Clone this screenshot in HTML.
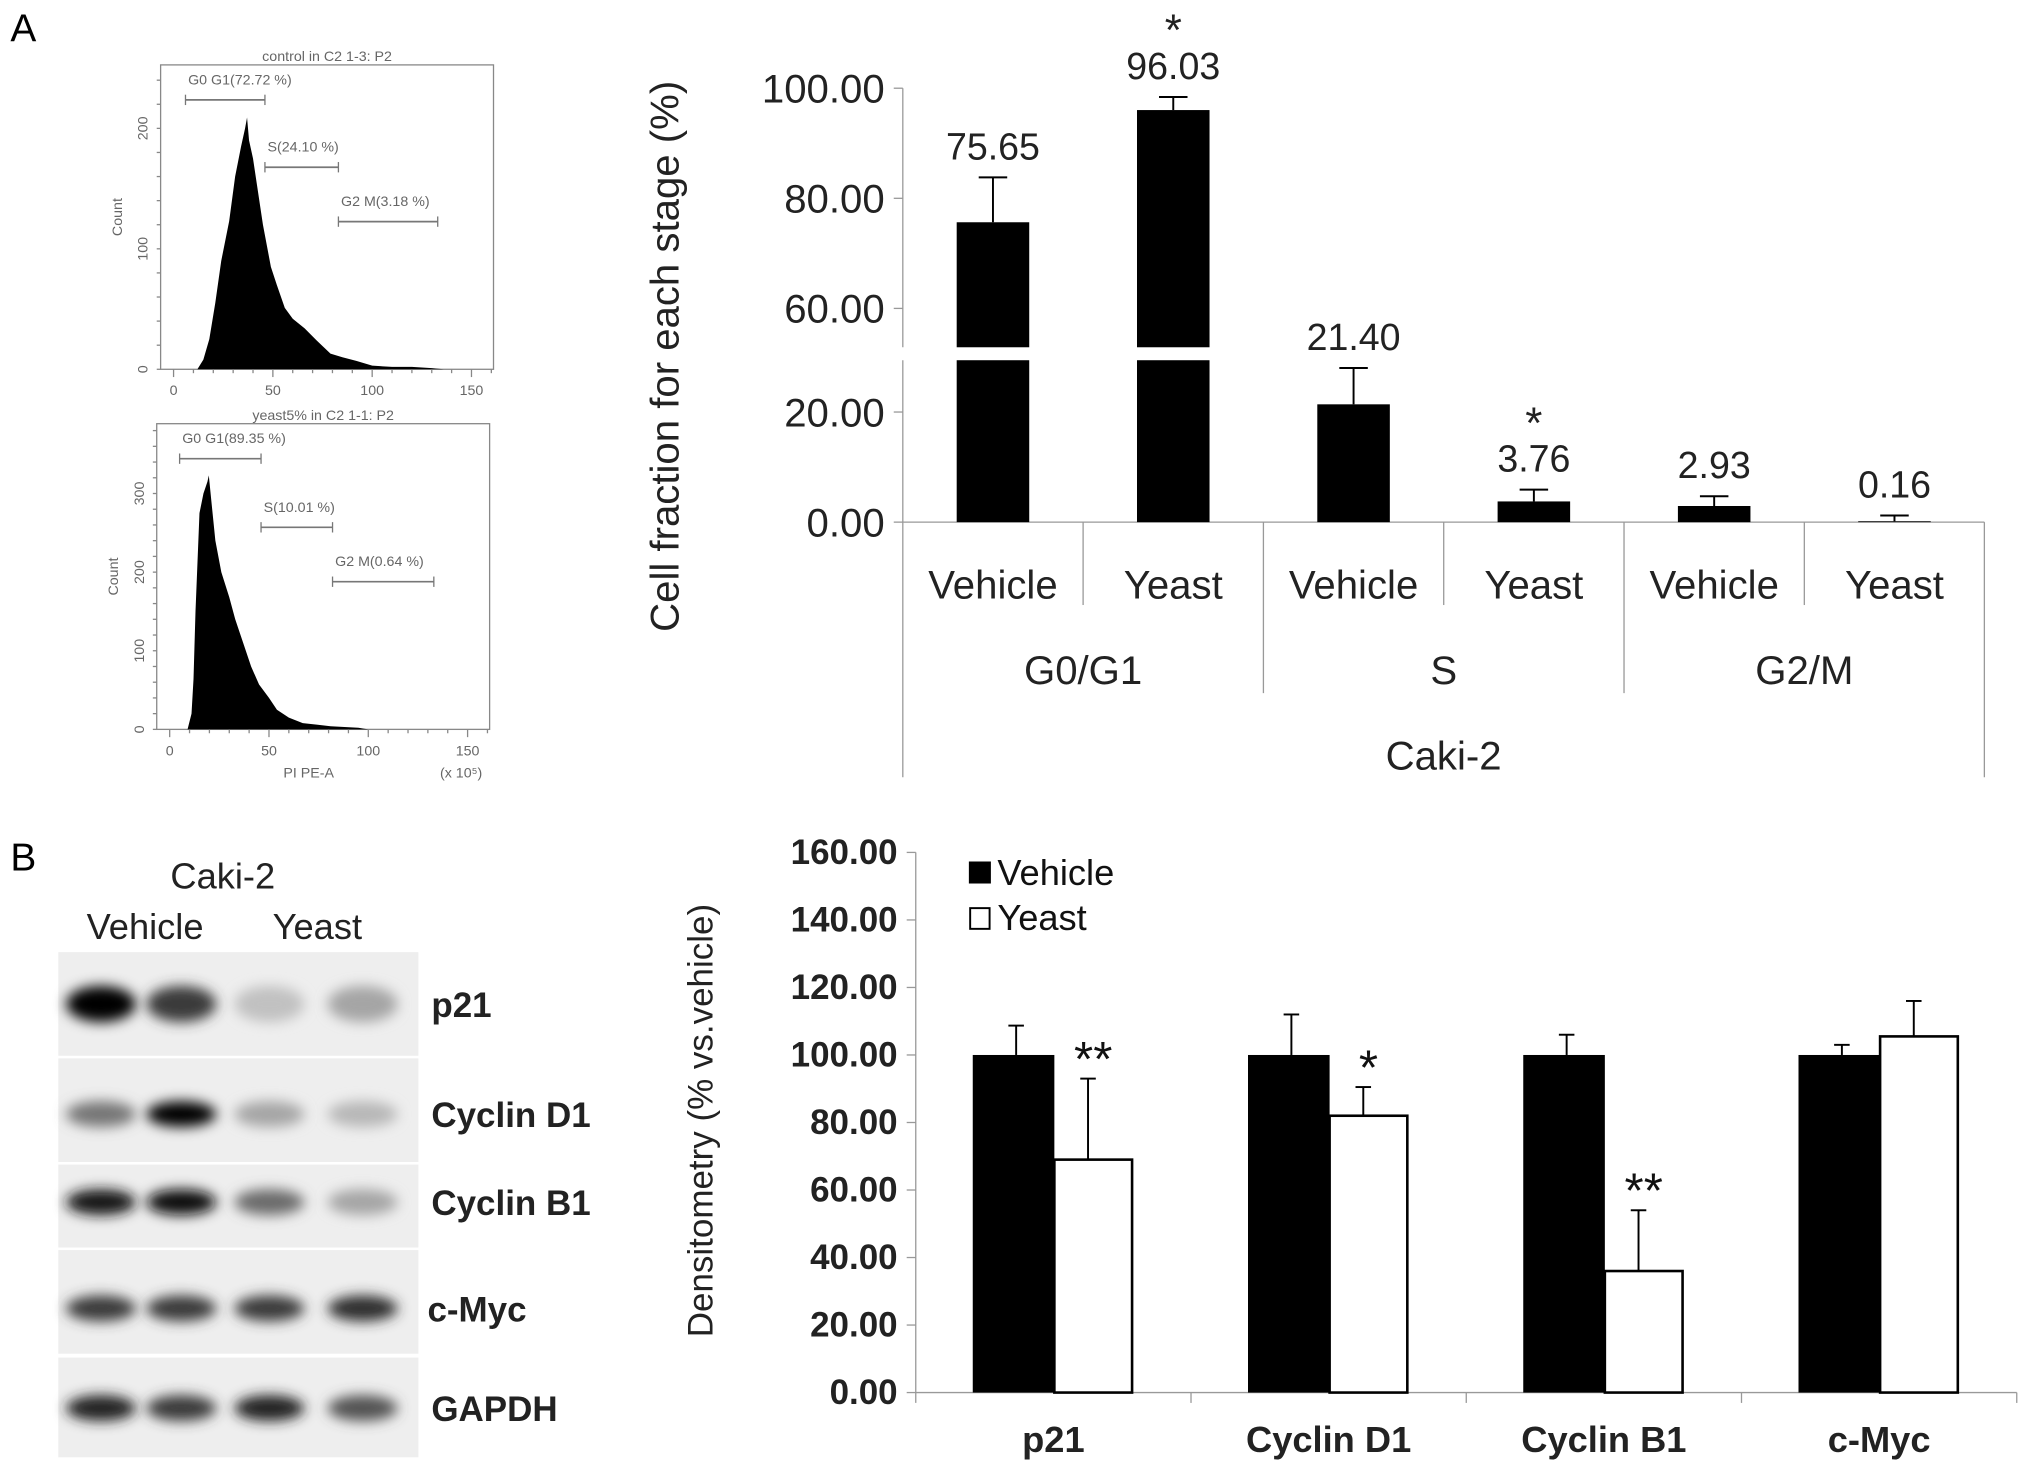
<!DOCTYPE html>
<html><head><meta charset="utf-8"><style>
html,body{margin:0;padding:0;background:#fff;}
svg{display:block;}
.a{font-family:"Liberation Sans Narrow","Liberation Sans",sans-serif;}
.b{font-family:"Liberation Sans",sans-serif;font-weight:bold;}
</style></head><body>
<svg id="fig" width="2031" height="1473" viewBox="0 0 1568 1137" xmlns="http://www.w3.org/2000/svg">
<defs><filter id="blur" x="-50%" y="-80%" width="200%" height="260%"><feGaussianBlur stdDeviation="5"/></filter></defs>
<text x="8" y="32" font-size="30" font-family="Liberation Sans">A</text>
<text x="8" y="672" font-size="30" font-family="Liberation Sans">B</text>
<g id="flow"></g>
<g id="chartA"></g>
<g id="blot"></g>
<g id="chartB"></g>
</svg>
<script>
// ---------- Flow histogram data ----------
const flowTopX=[12,15,18,21,24,28,31,34,36,37,38,40,42,45,49,52,56,60,66,72,79,85,92,100,110,120,130,136];
const flowTopY=[0,8,25,55,90,123,160,185,200,209,190,175,153,120,85,70,51,42,34,24,13,10,7,3,2,2,1,0];
const flowBotX=[9,11,12,13,15,17,19,19.7,21,23,26,30,33,37,41,45,50,54,60,67,74,81,88,95,100];
const flowBotY=[0,20,64,150,275,300,315,323,290,240,200,168,140,110,80,57,40,25,15,8,6,4,3,2,0];
// ---------- Chart A data ----------
const catsA=["Vehicle","Yeast","Vehicle","Yeast","Vehicle","Yeast"];
const groupsA=["G0/G1","S","G2/M"];
const valsA=[75.65,96.03,21.40,3.76,2.93,0.16];
const errA=[83.8,98.4,28.0,5.9,4.7,1.2];
const starsA=["","*","","*","",""];
const ticksA=[0,20,60,80,100];
// ---------- Chart B data ----------
const catsB=["p21","Cyclin D1","Cyclin B1","c-Myc"];
const vehB=[100,100,100,100];
const vehErrB=[108.7,112,106,103];
const yeastB=[69,82,36,105.5];
const yeastErrB=[93,90.5,54,116];
const starsB=["**","*","**",""];
const ticksB=[0,20,40,60,80,100,120,140,160];
// ---------- Blot data (band darkness 0-1 per lane) ----------
const blotRows=["p21","Cyclin D1","Cyclin B1","c-Myc","GAPDH"];
const blotInt=[[1,0.75,0.18,0.3],[0.5,1,0.3,0.22],[0.9,0.95,0.55,0.3],[0.75,0.75,0.75,0.8],[0.85,0.75,0.85,0.65]];

const NS="http://www.w3.org/2000/svg";
function mk(tag,attrs,parent,text){const e=document.createElementNS(NS,tag);for(const k in attrs)e.setAttribute(k,attrs[k]);if(text!==undefined)e.textContent=text;parent.appendChild(e);return e;}

// ---------- Flow plots ----------
const flow=document.getElementById('flow');
function flowPlot(box,xs,ys,ymaxTick,pxPer100,title,gates,name,showX){
  const g=mk('g',{},flow);
  
  
  const [x0,y0,x1,y1]=box; const zx=x0+10, sx=(x1-x0-27)/150, sy=pxPer100/100;
  const X=v=>zx+v*sx, Y=c=>y1-c*sy;
  mk('rect',{x:x0,y:y0,width:x1-x0,height:y1-y0,fill:'none',stroke:'#888','stroke-width':1},g);
  let pts=xs.map((v,i)=>X(v)+','+Y(ys[i])).join(' ');
  const p=mk('polygon',{points:X(xs[0])+','+y1+' '+pts+' '+X(xs[xs.length-1])+','+y1,fill:'#000'},g);
  
  
  mk('text',{x:(x0+x1)/2,y:y0-3,'font-size':11,'text-anchor':'middle',fill:'#666',class:'a'},g,title);
  for(let v=0;v<=150;v+=50){mk('text',{x:X(v),y:y1+20,'font-size':11,'text-anchor':'middle',fill:'#666',class:'a'},g,String(v));}
  for(let v=0;v<=160;v+=10){mk('line',{x1:X(v),x2:X(v),y1:y1,y2:y1+(v%50?3:6),stroke:'#888'},g);}
  for(let c=0;c<=ymaxTick;c+=100){mk('text',{x:0,y:0,'font-size':11,'text-anchor':'middle',fill:'#666',class:'a',transform:`translate(${x0-10},${Y(c)}) rotate(-90)`},g,String(c));}
  for(let c=0;c*sy<(y1-y0);c+=20){mk('line',{x1:x0-3,x2:x0,y1:Y(c),y2:Y(c),stroke:'#888'},g);}
  mk('text',{x:0,y:0,'font-size':11,'text-anchor':'middle',fill:'#666',class:'a',transform:`translate(${x0-30},${(y0+y1)/2}) rotate(-90)`},g,'Count');
  gates.forEach(gt=>{const [a,b,yy,lab]=gt;mk('line',{x1:X(a),x2:X(b),y1:yy,y2:yy,stroke:'#777','stroke-width':1.3},g);
    mk('line',{x1:X(a),x2:X(a),y1:yy-4,y2:yy+4,stroke:'#777'},g);mk('line',{x1:X(b),x2:X(b),y1:yy-4,y2:yy+4,stroke:'#777'},g);
    mk('text',{x:X(a)+2,y:yy-12,'font-size':11,fill:'#666',class:'a'},g,lab);});
  if(showX){mk('text',{x:X(70),y:y1+37,'font-size':11,'text-anchor':'middle',fill:'#666',class:'a'},g,'PI PE-A');
    mk('text',{x:x1-22,y:y1+37,'font-size':11,'text-anchor':'middle',fill:'#666',class:'a'},g,'(x 10⁵)');}
}
flowPlot([124,50,381,285],flowTopX,flowTopY,200,93,'control in C2 1-3: P2',[[6,46,77,'G0 G1(72.72 %)'],[46,83,129,'S(24.10 %)'],[83,133,171,'G2 M(3.18 %)']],'flow-histogram-control',false);
flowPlot([121,327,378,563],flowBotX,flowBotY,300,60.7,'yeast5% in C2 1-1: P2',[[5,46,354,'G0 G1(89.35 %)'],[46,82,407,'S(10.01 %)'],[82,133,449,'G2 M(0.64 %)']],'flow-histogram-yeast',true);

// ---------- Chart A ----------
const cA=document.getElementById('chartA');
const axA=697, zeroA=403, ppu=4.25, upTop=68, upBreak=268, loBreak=278, catW=139.2, barW=56;
function yA(v){return v>=52.9? upTop+(100-v)*ppu : zeroA-v*ppu;}
mk('line',{x1:axA,x2:axA,y1:upTop,y2:upBreak,stroke:'#999'},cA);
mk('line',{x1:axA,x2:axA,y1:loBreak,y2:600,stroke:'#999'},cA);
mk('line',{x1:axA,x2:1532,y1:zeroA,y2:zeroA,stroke:'#999'},cA);
ticksA.forEach(t=>{const y=yA(t);mk('line',{x1:axA-7,x2:axA,y1:y,y2:y,stroke:'#999'},cA);
  const tl=mk('text',{x:axA-14,y:y+11,'font-size':31,'text-anchor':'end',class:'a',fill:'#222'},cA,t.toFixed(2));
  });
const ytA=mk('text',{x:0,y:0,'font-size':31,'text-anchor':'middle',class:'a',fill:'#222',transform:'translate(524,275) rotate(-90)'},cA,'Cell fraction for each stage (%)');

valsA.forEach((v,i)=>{const cx=axA+catW*(i+0.5);const x=cx-barW/2;
  const g=mk('g',{},cA);
  if(v>52.9){mk('rect',{x:x,y:yA(v),width:barW,height:upBreak-yA(v),fill:'#000'},g);mk('rect',{x:x,y:loBreak,width:barW,height:zeroA-loBreak,fill:'#000'},g);}
  else mk('rect',{x:x,y:yA(v),width:barW,height:zeroA-yA(v),fill:'#000'},g);
  const et=yA(errA[i]);mk('line',{x1:cx,x2:cx,y1:et,y2:yA(v),stroke:'#000','stroke-width':1.5},g);mk('line',{x1:cx-11,x2:cx+11,y1:et,y2:et,stroke:'#000','stroke-width':1.5},g);
  mk('text',{x:cx,y:et-14,'font-size':29,'text-anchor':'middle',class:'a',fill:'#222'},g,v.toFixed(2));
  if(starsA[i])mk('text',{x:cx,y:et-40,'font-size':34,'text-anchor':'middle',class:'a',fill:'#222'},g,starsA[i]);
  mk('text',{x:cx,y:462,'font-size':31,'text-anchor':'middle',class:'a',fill:'#222'},cA,catsA[i]);
  if(i>0)mk('line',{x1:axA+catW*i,x2:axA+catW*i,y1:zeroA,y2:i%2?467:535,stroke:'#999'},cA);
});
mk('line',{x1:1532,x2:1532,y1:zeroA,y2:600,stroke:'#999'},cA);
groupsA.forEach((gname,j)=>{mk('text',{x:axA+catW*(2*j+1),y:528,'font-size':31,'text-anchor':'middle',class:'a',fill:'#222'},cA,gname);});
mk('text',{x:(axA+1532)/2,y:594,'font-size':31,'text-anchor':'middle',class:'a',fill:'#222'},cA,'Caki-2');

// ---------- Blot ----------
const bl=document.getElementById('blot');
mk('text',{x:172,y:686,'font-size':28,'text-anchor':'middle','font-family':'Liberation Sans',fill:'#222'},bl,'Caki-2');
mk('text',{x:112,y:725,'font-size':28,'text-anchor':'middle','font-family':'Liberation Sans',fill:'#222'},bl,'Vehicle');
mk('text',{x:245,y:725,'font-size':28,'text-anchor':'middle','font-family':'Liberation Sans',fill:'#222'},bl,'Yeast');
const rowY=[[735,815,775],[817,897,860],[899,963,928],[965,1045,1010],[1048,1125,1087]];
const lanes=[78,140,208,280];
blotRows.forEach((r,i)=>{const [t,b,c]=rowY[i];const g=mk('g',{},bl);
  mk('rect',{x:45,y:t,width:278,height:b-t,fill:'#eeeeee'},g);
  blotInt[i].forEach((d,k)=>{const gv=Math.round(235-235*d);mk('ellipse',{cx:lanes[k],cy:c,rx:27,ry:i==0?14:10,fill:`rgb(${gv},${gv},${gv})`,filter:'url(#blur)'},g);});
  mk('text',{x:i==3?330:333,y:c+10,'font-size':27,class:'b',fill:'#222'},g,r);
});

// ---------- Chart B ----------
const cB=document.getElementById('chartB');
const axB=707, zeroB=1075, pB=(1075-658)/160, gW=212.5, bW=63, wW=60;
const yB=v=>zeroB-v*pB;
mk('line',{x1:axB,x2:axB,y1:658,y2:zeroB+8,stroke:'#999'},cB);
mk('line',{x1:axB,x2:1557,y1:zeroB,y2:zeroB,stroke:'#999'},cB);
ticksB.forEach(t=>{const y=yB(t);mk('line',{x1:axB-7,x2:axB,y1:y,y2:y,stroke:'#999'},cB);
  const tl=mk('text',{x:axB-14,y:y+9,'font-size':27,'text-anchor':'end',class:'b',fill:'#222'},cB,t.toFixed(2));
  });
const ytB=mk('text',{x:0,y:0,'font-size':27,'text-anchor':'middle','font-family':'Liberation Sans',fill:'#222',transform:'translate(550,865) rotate(-90)'},cB,'Densitometry (% vs.vehicle)');

catsB.forEach((c,i)=>{const gx=axB+gW*i;const xv=gx+44,xy=xv+bW;
  const g=mk('g',{},cB);
  mk('rect',{x:xv,y:yB(vehB[i]),width:bW,height:zeroB-yB(vehB[i]),fill:'#000'},g);
  mk('rect',{x:xy,y:yB(yeastB[i]),width:wW,height:zeroB-yB(yeastB[i]),fill:'#fff',stroke:'#000','stroke-width':2},g);
  const cv=xv+bW/2+2, cy=xy+wW/2-4;
  [[cv,vehErrB[i],vehB[i]],[cy,yeastErrB[i],yeastB[i]]].forEach(([cx,e,v])=>{mk('line',{x1:cx,x2:cx,y1:yB(e),y2:yB(v),stroke:'#000','stroke-width':1.5},g);mk('line',{x1:cx-6,x2:cx+6,y1:yB(e),y2:yB(e),stroke:'#000','stroke-width':1.5},g);});
  if(starsB[i])mk('text',{x:cy+4,y:yB(yeastErrB[i])-2,'font-size':38,'text-anchor':'middle','font-family':'Liberation Sans',fill:'#111'},g,starsB[i]);
  mk('text',{x:gx+gW/2,y:1121,'font-size':28,'text-anchor':'middle',class:'b',fill:'#222'},cB,c);
  if(i>0)mk('line',{x1:gx,x2:gx,y1:zeroB,y2:zeroB+8,stroke:'#999'},cB);
});
mk('line',{x1:1557,x2:1557,y1:zeroB,y2:zeroB+8,stroke:'#999'},cB);
const lg=mk('g',{},cB);
mk('rect',{x:748,y:665,width:17,height:17,fill:'#000'},lg);
mk('text',{x:770,y:683,'font-size':28,'font-family':'Liberation Sans',fill:'#111'},lg,'Vehicle');
mk('rect',{x:749,y:701,width:15,height:16,fill:'#fff',stroke:'#000','stroke-width':1.5},lg);
mk('text',{x:770,y:718,'font-size':28,'font-family':'Liberation Sans',fill:'#111'},lg,'Yeast');
</script>
</body></html>
